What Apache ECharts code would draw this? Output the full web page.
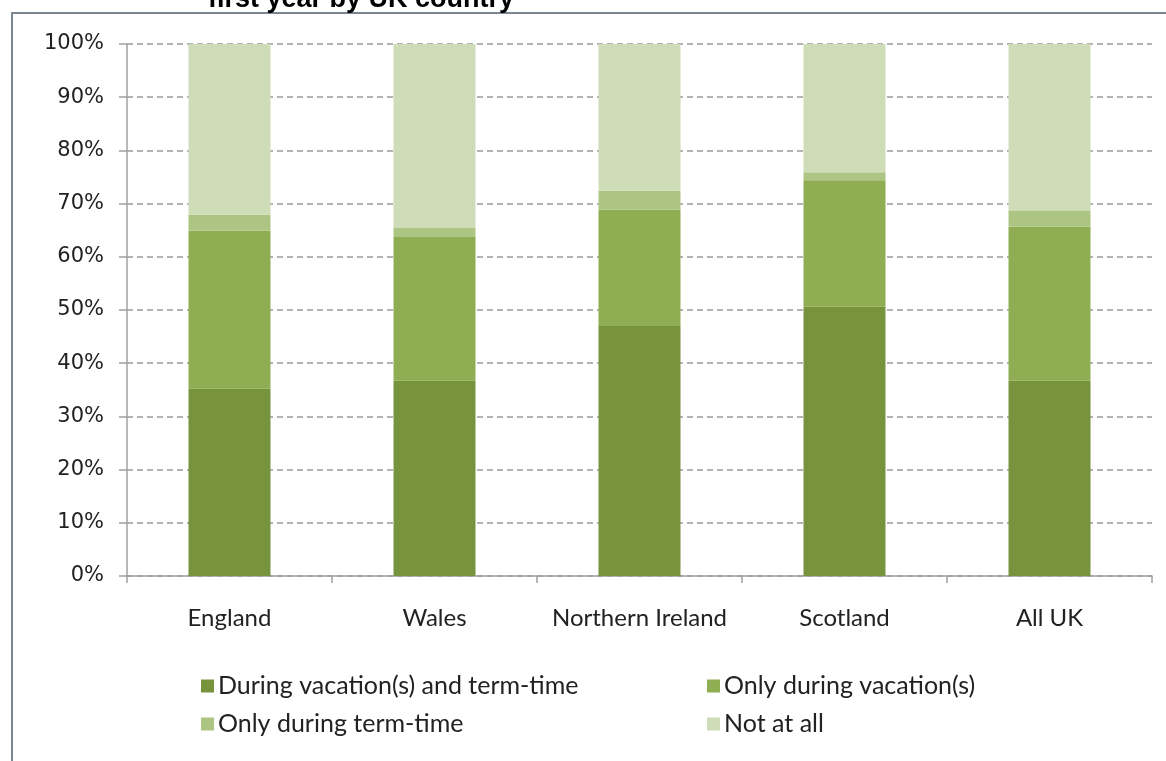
<!DOCTYPE html>
<html><head><meta charset="utf-8">
<script src="https://cdn.jsdelivr.net/npm/echarts@6/dist/echarts.min.js"></script>
<style>html,body{margin:0;padding:0;background:#fff}#c{width:1166px;height:761px}</style>
</head><body><div id="c"></div>
<script>
const categories = ['England', 'Wales', 'Northern Ireland', 'Scotland', 'All UK'];
const seriesNames = ['During vacation(s) and term-time', 'Only during vacation(s)', 'Only during term-time', 'Not at all'];
const bothVacTerm = [35.2, 36.7, 47.0, 50.6, 36.7];
const onlyVacation = [29.7, 27.0, 21.9, 23.8, 29.0];
const onlyTerm = [3.0, 1.7, 3.5, 1.5, 2.9];
const notAtAll = [32.1, 34.6, 27.6, 24.1, 31.4];
const yTicks = [0, 10, 20, 30, 40, 50, 60, 70, 80, 90, 100];
const titleText = 'first year by UK country';

const colors = ['#77933C', '#8FAD52', '#ADC583', '#CFDCB8'];
const dataSets = [bothVacTerm, onlyVacation, onlyTerm, notAtAll];

const legendText = {fontFamily: 'Lato', fontSize: 25, color: '#222', lineHeight: 26, padding: [0, 0, 0, -1]};

const chart = echarts.init(document.getElementById('c'), null, {renderer: 'canvas'});
chart.setOption({
  animation: false,
  color: colors,
  graphic: [
    {type: 'rect', shape: {x: 12, y: 13, width: 1170, height: 760}, style: {fill: 'none', stroke: '#7d8794', lineWidth: 2}, z: 100},
    {type: 'text', x: 208, y: 13, style: {text: titleText, font: 'bold 27px "Liberation Sans", Arial, sans-serif', fill: '#000', verticalAlign: 'bottom'}, z: 101}
  ],
  grid: {left: 127, right: 14, top: 44, bottom: 185},
  legend: [
    {orient: 'vertical', left: 196, top: 668, itemWidth: 13, itemHeight: 13, itemGap: 12, icon: 'rect',
     data: [seriesNames[0], seriesNames[2]], textStyle: legendText},
    {orient: 'vertical', left: 702, top: 668, itemWidth: 13, itemHeight: 13, itemGap: 12, icon: 'rect',
     data: [seriesNames[1], seriesNames[3]], textStyle: legendText}
  ],
  xAxis: {
    type: 'category', data: categories,
    axisLine: {lineStyle: {color: '#a0a0a0', width: 1.5}},
    axisTick: {show: true, interval: 0, length: 7, lineStyle: {color: '#a0a0a0', width: 1.5}},
    axisLabel: {interval: 0, fontFamily: 'Lato', fontSize: 24, color: '#222', margin: 30}
  },
  yAxis: {
    type: 'value', min: 0, max: 100, interval: 10,
    axisLine: {show: true, lineStyle: {color: '#a0a0a0', width: 1.5}},
    axisTick: {show: true, length: 8, lineStyle: {color: '#a0a0a0', width: 1.5}},
    axisLabel: {fontFamily: '"DejaVu Sans", Verdana, sans-serif', fontSize: 21, color: '#222', margin: 23,
      formatter: v => yTicks.includes(v) ? v + '%' : ''},
    splitLine: {lineStyle: {color: '#999', type: [6, 4], width: 1.5}}
  },
  series: dataSets.map((d, i) => ({
    name: seriesNames[i], type: 'bar', stack: 'total', data: d,
    barWidth: 82,
    itemStyle: {color: colors[i]}
  }))
});
</script></body></html>
